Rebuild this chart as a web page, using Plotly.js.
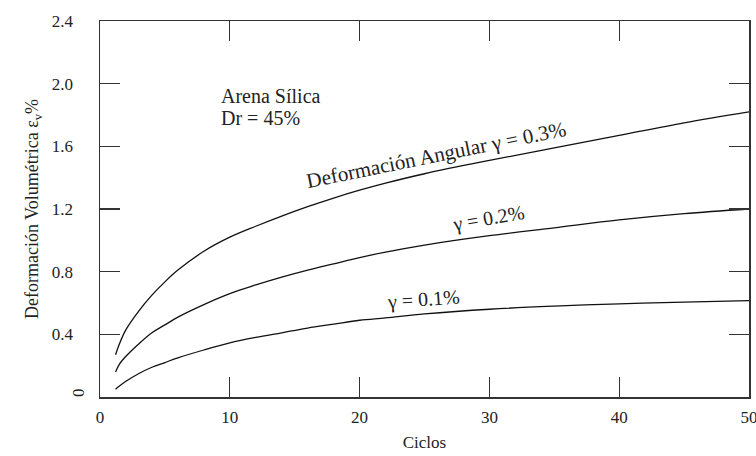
<!DOCTYPE html>
<html>
<head>
<meta charset="utf-8">
<script src="https://cdn.plot.ly/plotly-3.0.1.min.js"></script>
<style>html,body{margin:0;padding:0;background:#fff;}#chart{width:756px;height:456px;}</style>
</head>
<body>
<div id="chart"></div>
<script>
const ciclos = [1.2, 1.5, 2, 3, 4, 5, 6, 8, 10, 12, 14, 16, 18, 20, 22, 25, 30, 35, 40, 45, 50];
const gamma03 = [0.27, 0.34, 0.43, 0.55, 0.65, 0.735, 0.81, 0.93, 1.02, 1.09, 1.155, 1.215, 1.27, 1.32, 1.365, 1.425, 1.51, 1.59, 1.67, 1.75, 1.82];
const gamma02 = [0.16, 0.21, 0.26, 0.34, 0.41, 0.46, 0.51, 0.59, 0.66, 0.715, 0.765, 0.81, 0.85, 0.89, 0.925, 0.97, 1.03, 1.08, 1.13, 1.17, 1.20];
const gamma01 = [0.05, 0.07, 0.10, 0.15, 0.19, 0.22, 0.25, 0.30, 0.345, 0.38, 0.41, 0.44, 0.465, 0.49, 0.505, 0.53, 0.56, 0.58, 0.595, 0.605, 0.615];
const seriesNames = ['γ = 0.3%', 'γ = 0.2%', 'γ = 0.1%'];
const yTickVals = [0.4, 0.8, 1.2, 1.6, 2.0, 2.4];
const yTickText = ['0.4', '0.8', '1.2', '1.6', '2.0', '2.4'];
const xTickVals = [0, 10, 20, 30, 40, 50];

const serif = '"Liberation Serif", "Times New Roman", serif';
const lineStyle = {color: '#111', width: 1.3, shape: 'spline', smoothing: 1};

const traces = [gamma03, gamma02, gamma01].map((ys, i) => ({
  x: ciclos, y: ys, type: 'scatter', mode: 'lines', name: seriesNames[i],
  line: lineStyle, hoverinfo: 'skip'
}));

const layout = {
  width: 756, height: 456,
  margin: {l: 100, r: 6.5, t: 20.7, b: 59.3},
  paper_bgcolor: '#fff', plot_bgcolor: '#fff',
  showlegend: false,
  font: {family: serif, color: '#222', size: 16},
  xaxis: {
    range: [0, 50], tickvals: xTickVals, ticks: 'inside', ticklen: 20, tickwidth: 1.2, tickcolor: '#333',
    showline: true, linecolor: '#333', linewidth: 1.5, mirror: 'ticks', showgrid: false, zeroline: false,
    tickfont: {family: serif, size: 17, color: '#222'}, ticklabelstandoff: 4, ticklabeloverflow: 'allow',
    title: {text: 'Ciclos', font: {family: serif, size: 17, color: '#222'}, standoff: 10}
  },
  yaxis: {
    range: [0, 2.4], tickvals: yTickVals, ticktext: yTickText, ticks: 'inside', ticklen: 20, tickwidth: 1.2, tickcolor: '#333',
    showline: true, linecolor: '#333', linewidth: 1.5, mirror: 'ticks', showgrid: false, zeroline: false,
    tickfont: {family: serif, size: 17, color: '#222'}, ticklabelstandoff: 22, ticklabeloverflow: 'allow',
    title: {text: 'Deformación Volumétrica ε<sub>v</sub>%', font: {family: serif, size: 18, color: '#222'}, standoff: 8}
  },
  annotations: [
    {text: '0', xref: 'paper', x: 0, yref: 'y', y: 0, xanchor: 'center', yanchor: 'middle', xshift: -22, yshift: 4,
     textangle: -90, showarrow: false, font: {family: serif, size: 17, color: '#222'}},
    {text: 'Arena Sílica', xref: 'x', x: 9.2, yref: 'y', y: 1.92, xanchor: 'left', yanchor: 'middle',
     showarrow: false, font: {family: serif, size: 20, color: '#222'}},
    {text: 'Dr = 45%', xref: 'x', x: 9.2, yref: 'y', y: 1.78, xanchor: 'left', yanchor: 'middle',
     showarrow: false, font: {family: serif, size: 20, color: '#222'}},
    {text: 'Deformación Angular γ = 0.3%', xref: 'x', x: 25.9, yref: 'y', y: 1.545, xanchor: 'center', yanchor: 'middle',
     textangle: -11.5, showarrow: false, font: {family: serif, size: 21, color: '#222'}},
    {text: 'γ = 0.2%', xref: 'x', x: 29.9, yref: 'y', y: 1.14, xanchor: 'center', yanchor: 'middle',
     textangle: -10, showarrow: false, font: {family: serif, size: 20, color: '#222'}},
    {text: 'γ = 0.1%', xref: 'x', x: 24.9, yref: 'y', y: 0.62, xanchor: 'center', yanchor: 'middle',
     textangle: -4, showarrow: false, font: {family: serif, size: 20, color: '#222'}}
  ]
};

Plotly.newPlot('chart', traces, layout, {staticPlot: true, displayModeBar: false});
</script>
</body>
</html>
